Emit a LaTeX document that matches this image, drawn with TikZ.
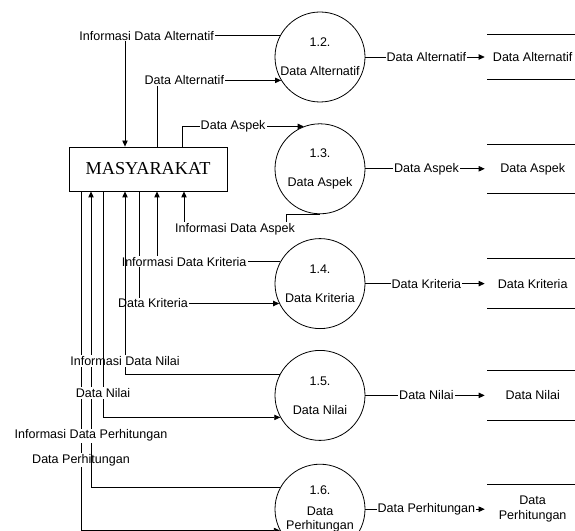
\documentclass[tikz,border=0pt]{standalone}
\usepackage{fontspec}
\setmainfont{Liberation Sans}
\newfontfamily\boxfont{Liberation Serif}
\usetikzlibrary{arrows.meta, positioning}

\begin{document}
\begin{tikzpicture}[
  x=0.75pt, y=-0.75pt,
  font=\fontsize{9.4pt}{11.3pt}\selectfont,
  proc/.style={draw, circle, minimum size=67.5pt, inner sep=-4pt,
               align=center},
  store/.style={minimum width=67.5pt, minimum height=36.75pt,
                inner sep=0pt, align=center},
  ent/.style={draw, minimum width=118.5pt, minimum height=33pt,
              font=\boxfont\fontsize{13.7pt}{16pt}\selectfont},
  lbl/.style={fill=white, inner sep=0.8pt},
  arr/.style={-{Triangle[length=4.5pt, width=4pt]}, line width=0.6pt},
  ln/.style={line width=0.6pt}
]
  \useasboundingbox (0,0) rectangle (575,531);

  % processes
  \node[proc, ln] (p12) at (320,57) {1.2.\\[10.5pt]Data Alternatif};
  \node[proc, ln, below=15.75pt of p12] (p13) {1.3.\\[10.5pt]Data Aspek};
  \node[proc, ln, below=18pt of p13] (p14) {1.4.\\[10.5pt]Data Kriteria};
  \node[proc, ln, below=15.75pt of p14] (p15) {1.5.\\[10.5pt]Data Nilai};
  \node[proc, ln, below=17.25pt of p15] (p16) {1.6.\\[4.5pt]Data\\[-1pt]Perhitungan};

  % data stores
  \node[store, minimum height=33.75pt, right=91.5pt of p12] (s12) {Data Alternatif};
  \node[store, right=91.5pt of p13] (s13) {Data Aspek};
  \node[store, right=91.5pt of p14] (s14) {Data Kriteria};
  \node[store, right=91.5pt of p15] (s15) {Data Nilai};
  \node[store, right=91.5pt of p16] (s16) {Data\\Perhitungan};

  \draw[ln] (s12.north west) -- (s12.north east) (s12.south west) -- (s12.south east);
  \draw[ln] (s13.north west) -- (s13.north east) (s13.south west) -- (s13.south east);
  \draw[ln] (s14.north west) -- (s14.north east) (s14.south west) -- (s14.south east);
  \draw[ln] (s15.north west) -- (s15.north east) (s15.south west) -- (s15.south east);
  \draw[ln] (s16.north west) -- (s16.north east) (s16.south west) -- (s16.south east);

  % external entity
  \node[ent, ln] (ms) at (148,169) {MASYARAKAT};

  % process -> store
  \draw[arr, shorten >=2pt] (p12) -- node[lbl]{Data Alternatif} (s12);
  \draw[arr, shorten >=2pt] (p13) -- node[lbl]{Data Aspek} (s13);
  \draw[arr, shorten >=2pt] (p14) -- node[lbl]{Data Kriteria} (s14);
  \draw[arr, shorten >=2pt] (p15) -- node[lbl]{Data Nilai} (s15);
  \draw[arr, shorten >=2pt] (p16) -- node[lbl]{Data Perhitungan} (s16);

  % entity <-> processes, top side
  \draw[arr] (p12.152)
    -| node[lbl, pos=0.43]{Informasi Data Alternatif} ([xshift=-17.25pt]ms.north);
  \draw[arr] ([xshift=6.75pt]ms.north)
    |- node[lbl, pos=0.61]{Data Alternatif} (p12.211);
  \draw[arr] ([xshift=25.5pt]ms.north)
    |- node[lbl, pos=0.71]{Data Aspek} (p13.111);

  % entity <-> processes, bottom side
  \draw[arr] (p13.south) -- ++(-34,0) -- ++(0,15)
    -| node[lbl, pos=0.25]{Informasi Data Aspek} ([xshift=27pt]ms.south);
  \draw[arr] ([xshift=-50.25pt]ms.south)
    |- node[lbl, pos=0.396]{Data Perhitungan} (p16.208);
  \draw[arr] (p16.151)
    -| node[lbl, pos=0.587]{Informasi Data Perhitungan} ([xshift=-42.75pt]ms.south);
  \draw[arr] ([xshift=-6.75pt]ms.south)
    |- node[lbl, pos=0.55]{Data Kriteria} (p14.206);
  \draw[arr] (p14.151)
    -| node[lbl, pos=0.39]{Informasi Data Kriteria} ([xshift=6.75pt]ms.south);
  \draw[arr] (p15.152)
    -| node[lbl, pos=0.536]{Informasi Data Nilai} ([xshift=-17.25pt]ms.south);
  \draw[arr] ([xshift=-33.75pt]ms.south)
    |- node[lbl, pos=0.446]{Data Nilai} (p15.209);
\end{tikzpicture}
\end{document}
